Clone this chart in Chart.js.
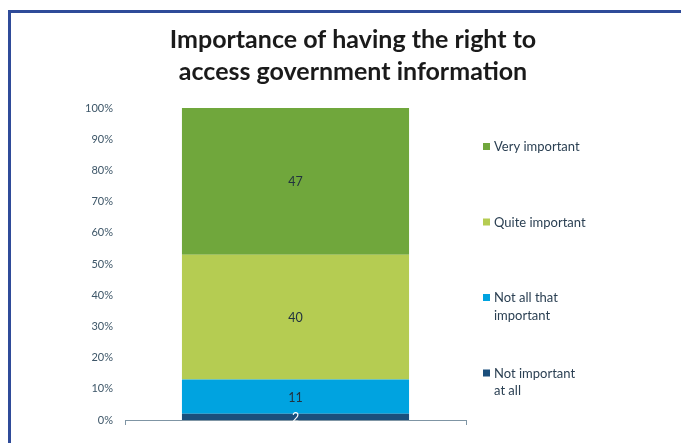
<!DOCTYPE html>
<html>
<head>
<meta charset="utf-8">
<script src="https://cdn.jsdelivr.net/npm/chart.js@4.4.1/dist/chart.umd.min.js"></script>
<style>
  body { margin: 0; background: #fff; }
  #wrap { position: relative; width: 681px; height: 443px; overflow: hidden; }
  #frame {
    position: absolute; left: 8px; top: 10px; width: 700px; height: 500px;
    border-top: 3px solid #2f4b99; border-left: 3px solid #2f4b99;
  }
  canvas { position: absolute; left: 0; top: 0; }
</style>
</head>
<body>
<div id="wrap">
  <div id="frame"></div>
  <canvas id="myChart" width="681" height="443"></canvas>
</div>
<script>
const categorias = [""];
const series = ["Not important at all", "Not all that important", "Quite important", "Very important"];
const valores = [2, 11, 40, 47];
const colores = ["#1b4f7c", "#00a3e0", "#b5cc52", "#70a73c"];
const etiquetasLeyenda = [["Not important", "at all"], ["Not all that", "important"], ["Quite important"], ["Very important"]];
const ticksY = [0, 10, 20, 30, 40, 50, 60, 70, 80, 90, 100];
const titulo = ["Importance of having the right to", "access government information"];

const fuente = "Lato, 'Open Sans', sans-serif";
const colorTexto = "#2a3f52";

// titulo, leyenda y etiquetas de valores
const extras = {
  id: "extras",
  afterDatasetsDraw(chart) {
    const ctx = chart.ctx;
    const area = chart.chartArea;
    ctx.save();

    // etiquetas dentro de cada segmento
    ctx.font = "12.5px " + fuente;
    ctx.textAlign = "center";
    ctx.textBaseline = "middle";
    chart.data.datasets.forEach((ds, i) => {
      const meta = chart.getDatasetMeta(i);
      meta.data.forEach((bar, j) => {
        ctx.fillStyle = i === 0 ? "#ffffff" : "#22323f";
        ctx.fillText(String(ds.data[j]), bar.x, (bar.y + bar.base) / 2 + 1);
      });
    });

    // titulo
    ctx.font = "bold 25px " + fuente;
    ctx.fillStyle = "#1a1a1a";
    titulo.forEach((linea, k) => {
      ctx.fillText(linea, 353, 40 + k * 32);
    });

    // leyenda (de arriba hacia abajo, orden inverso del apilado)
    ctx.font = "13px " + fuente;
    ctx.textAlign = "left";
    const n = chart.data.datasets.length;
    for (let k = 0; k < n; k++) {
      const i = n - 1 - k;
      const y0 = area.top + 39 + k * 75.5;
      ctx.fillStyle = colores[i];
      ctx.fillRect(483, y0 - 4, 7, 7);
      ctx.fillStyle = colorTexto;
      etiquetasLeyenda[i].forEach((t, m) => {
        ctx.fillText(t, 494, y0 + m * 17.5);
      });
    }
    ctx.restore();
  }
};

const config = {
  type: "bar",
  data: {
    labels: categorias,
    datasets: series.map((s, i) => ({
      label: s,
      data: [valores[i]],
      backgroundColor: colores[i],
      borderWidth: 0,
      barPercentage: 1,
      categoryPercentage: 0.666,
    })),
  },
  options: {
    responsive: false,
    animation: false,
    layout: { padding: { top: 108, left: 0, right: 215, bottom: 0 } },
    plugins: {
      legend: { display: false },
      title: { display: false },
      tooltip: { enabled: false },
    },
    scales: {
      x: {
        stacked: true,
        ticks: { display: false },
        grid: { display: true, drawOnChartArea: false, drawTicks: true, tickLength: 5, color: "#7f95a4" },
        border: { display: true, color: "#7f95a4", width: 1 },
        afterFit: (s) => { s.height = 23; },
      },
      y: {
        stacked: true,
        min: 0,
        max: 100,
        afterBuildTicks: (s) => { s.ticks = ticksY.map((v) => ({ value: v })); },
        ticks: {
          padding: 4,
          color: "#3d5668",
          font: { family: fuente, size: 11 },
          callback: (v) => v + "%",
        },
        grid: { display: false },
        border: { display: false },
        afterFit: (s) => { s.width = 125; },
      },
    },
  },
  plugins: [extras],
};

new Chart(document.getElementById("myChart"), config);
</script>
</body>
</html>
